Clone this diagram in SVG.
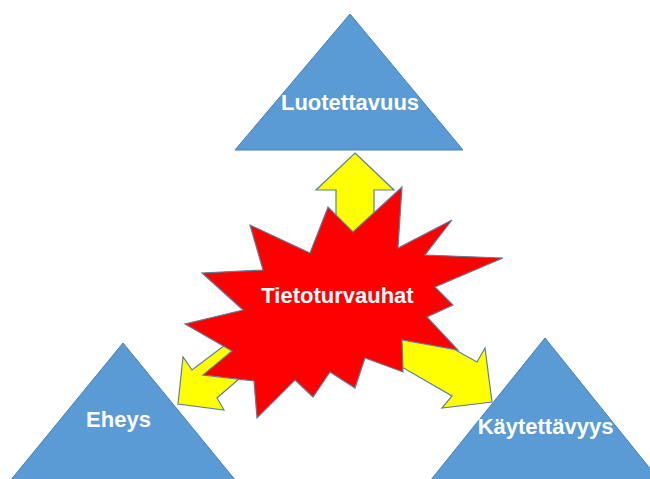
<svg xmlns="http://www.w3.org/2000/svg" width="650" height="479" viewBox="0 0 650 479">
<style>
.tri{fill:#5B9BD5;stroke:#4A7EB0;stroke-width:1}
.arr{fill:#FFFF00;stroke:#5E7F9C;stroke-width:1.2;stroke-linejoin:miter}
.burst{fill:#FF0000;stroke:#5E7F9C;stroke-width:1.2;stroke-linejoin:miter}
.lbl{font-family:"Liberation Sans",Arial,sans-serif;font-weight:bold;font-size:22px;fill:#FFFFFF;text-anchor:middle}
</style>
<rect width="650" height="479" fill="#FFFFFF"/>
<g id="luotettavuus">
<polygon class="tri" points="350,14 463,150 235,150"/>
<text class="lbl" x="350" y="110">Luotettavuus</text>
</g>
<g id="eheys">
<polygon class="tri" points="123,343 236,481 10,481"/>
<text class="lbl" x="118.5" y="427">Eheys</text>
</g>
<g id="kaytettavyys">
<polygon class="tri" points="545,338 660,481 430,481"/>
<text class="lbl" x="545.5" y="434">Käytettävyys</text>
</g>
<g id="connectors">
<polygon class="arr" points="355,153 394,190 374,190 374,238 336,238 336,190 316,190"/>
<polygon class="arr" points="398,318 477,362 485,348 492,402 442,408 452,396 400,366"/>
<polygon class="arr" points="178,404 183,357 192,370 245,330 262,359 217,398 224,410"/>
</g>
<g id="tietoturvauhat">
<polygon class="burst" points="503,258 435,287 453,305 427,317 458,350 402,340 403,372 365,358 355,388 330,372 313,397 295,380 257,418 254,381 203,375 232,351 185,324 243,310 202,273 263,270 250,225 310,253 328,207 353,232 402,187 398,248 452,220 425,255"/>
<text class="lbl" x="337.5" y="303">Tietoturvauhat</text>
</g>
</svg>
